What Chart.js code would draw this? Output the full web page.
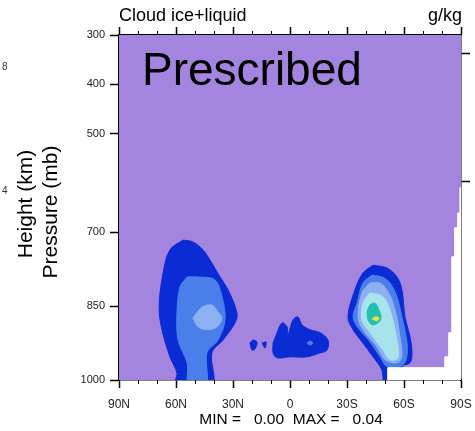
<!DOCTYPE html>
<html>
<head>
<meta charset="utf-8">
<script src="https://cdn.jsdelivr.net/npm/chart.js@4.4.1/dist/chart.umd.min.js"></script>
<style>
  html, body { margin: 0; padding: 0; background: #fff; }
  #grafico { display: block; }
</style>
</head>
<body>
<canvas id="grafico" width="475" height="431"></canvas>
<script>
// ================= DATOS =================
// latitud en grados (positivo = N), presión en mb
const ticksLatitud = [90, 60, 30, 0, -30, -60, -90];
const ticksLatMenores = [80, 70, 50, 40, 20, 10, -10, -20, -40, -50, -70, -80];
const ticksPresion = [300, 400, 500, 700, 850, 1000];
const ticksAltura = [337, 598]; // 8 km y 4 km (eje derecho)

// contornos (lat, presión)
const norteNivel1 = [[56.3,716],[63.2,736],[66.8,783],[68.9,852],[67.4,898],[63.2,953],[59.5,986],[60.5,1010],
  [41.1,1010],[41.1,945],[35.3,919],[28.9,884],[27.9,864],[32.6,817],[36.8,791],[41.1,763],[45.8,736],[51.1,720]];
const norteNivel2 = [[54.2,791],[57.9,811],[59.5,864],[58.9,919],[54.2,965],[53.2,1010],[44.2,1010],[43.7,945],
  [37.9,919],[34.2,878],[35.8,831],[39.5,797],[48.4,791]];
const norteNivel3 = [[51.1,874],[46.3,852],[41.1,848],[37.9,862],[35.8,874],[38.4,892],[43.7,898],[48.4,892]];

const ecuadorNivel1 = [[8.9,925],[6.8,904],[4.2,884],[1.6,892],[1.1,909],[-1.6,878],[-4.2,872],[-6.3,888],
  [-10.5,898],[-15.8,904],[-20.0,919],[-19.5,939],[-15.8,945],[-8.9,953],[0,953],[6.8,955],[8.9,945]];
const ecuadorNivel2 = [[-8.9,925],[-10.5,921],[-12.1,925],[-10.5,929]];
const ecuadorChico1 = [[21.1,925],[19.5,919],[17.4,923],[18.4,937],[20.0,939]];
const ecuadorChico2 = [[14.7,925],[12.6,923],[13.2,935]];

const surNivel1 = [[-43.7,767],[-38.4,783],[-34.2,817],[-30.5,872],[-33.2,898],[-38.4,925],[-43.7,953],[-48.4,980],
  [-50.0,1010],[-58.9,1010],[-58.9,973],[-63.2,965],[-64.2,945],[-63.2,913],[-60.5,872],[-58.9,817],[-56.3,791],[-51.1,773]];
const surNivel2 = [[-43.2,787],[-38.4,803],[-35.3,844],[-33.2,872],[-35.8,894],[-42.1,923],[-47.4,953],[-51.1,973],
  [-57.9,973],[-61.1,959],[-61.6,925],[-58.9,872],[-56.3,831],[-52.6,803],[-48.4,791]];
const surNivel3 = [[-42.1,803],[-37.9,823],[-35.8,872],[-38.4,898],[-45.8,933],[-50.0,959],[-56.3,965],[-58.9,953],
  [-57.9,913],[-55.3,858],[-51.6,821],[-47.4,803]];
const surNivel4 = [[-42.1,823],[-38.4,844],[-37.9,878],[-42.1,904],[-48.9,939],[-52.6,959],[-56.8,955],[-56.3,919],
  [-52.6,858],[-48.9,831]];
const surNivel5 = [[-40.5,862],[-42.1,848],[-44.7,844],[-46.8,858],[-47.9,874],[-46.3,884],[-43.2,888],[-41.1,878]];
const surNivel6 = [[-43.2,876],[-44.7,872],[-46.8,874],[-45.8,880]];

// zona bajo la superficie (sin datos)
const sinDatos = [[-89.6,610],[-89.6,661],[-88.4,661],[-88.4,691],[-86.8,691],[-86.8,750],[-85.3,750],[-85.3,904],
  [-83.7,904],[-83.7,953],[-81.6,953],[-81.6,975],[-51.6,975],[-51.6,1010],[-95,1010],[-95,610]];

// ================= ESTILOS =================
const colorFondo = "#a385e0";
const coloresNivel = ["#0b2bd4", "#4a7fea", "#8db0f2", "#a8e2ea", "#22bfb0", "#e6e23c"];
const fuente = "'Liberation Sans', Arial, sans-serif";

// capas en orden de dibujo (de abajo hacia arriba)
const capas = [
  { datos: norteNivel1, color: coloresNivel[0] },
  { datos: norteNivel2, color: coloresNivel[1] },
  { datos: norteNivel3, color: coloresNivel[2] },
  { datos: ecuadorNivel1, color: coloresNivel[0] },
  { datos: ecuadorNivel2, color: coloresNivel[1] },
  { datos: ecuadorChico1, color: coloresNivel[0] },
  { datos: ecuadorChico2, color: coloresNivel[0] },
  { datos: surNivel1, color: coloresNivel[0] },
  { datos: surNivel2, color: coloresNivel[1] },
  { datos: surNivel3, color: coloresNivel[2] },
  { datos: surNivel4, color: coloresNivel[3] },
  { datos: surNivel5, color: coloresNivel[4] },
  { datos: surNivel6, color: coloresNivel[5] },
  { datos: sinDatos, color: "#ffffff", recto: true }
];

function etiquetaLat(v) {
  if (v === 0) return "0";
  return v > 0 ? v + "N" : (-v) + "S";
}

// ================= PLUGINS =================
const fondoArea = {
  id: "fondoArea",
  beforeDatasetsDraw(chart) {
    const { ctx, chartArea: a } = chart;
    ctx.save();
    ctx.fillStyle = colorFondo;
    ctx.fillRect(a.left, a.top, a.right - a.left, a.bottom - a.top);
    ctx.restore();
  }
};

const ticksMenores = {
  id: "ticksMenores",
  afterDraw(chart) {
    const { ctx, chartArea: a } = chart;
    const esc = chart.scales.x;
    ctx.save();
    ctx.strokeStyle = "#000";
    ctx.lineWidth = 1;
    ticksLatMenores.forEach(lat => {
      const px = Math.round(esc.getPixelForValue(lat)) + 0.5;
      ctx.beginPath();
      ctx.moveTo(px, a.bottom); ctx.lineTo(px, a.bottom + 4);
      ctx.moveTo(px, a.top); ctx.lineTo(px, a.top - 4);
      ctx.stroke();
    });
    ctx.restore();
  }
};

const textos = {
  id: "textos",
  afterDraw(chart) {
    const { ctx } = chart;
    ctx.save();
    ctx.fillStyle = "#000";
    ctx.textBaseline = "alphabetic";

    ctx.font = "18px " + fuente;
    ctx.textAlign = "left";
    ctx.fillText("Cloud ice+liquid", 119, 21);
    ctx.textAlign = "right";
    ctx.fillText("g/kg", 462, 21);

    ctx.font = "46px " + fuente;
    ctx.textAlign = "left";
    ctx.fillText("Prescribed", 142, 85);

    ctx.font = "15.5px " + fuente;
    ctx.textAlign = "center";
    ctx.textBaseline = "middle";
    ctx.fillText("MIN =   0.00  MAX =   0.04", 291, 420);

    // restos del panel vecino
    ctx.font = "10px " + fuente;
    ctx.fillStyle = "#333";
    ctx.textAlign = "left";
    ctx.fillText("8", 2, 67);
    ctx.fillText("4", 2, 191);

    // títulos del eje
    ctx.fillStyle = "#000";
    ctx.font = "21px " + fuente;
    ctx.textAlign = "center";
    ctx.textBaseline = "alphabetic";
    ctx.save();
    ctx.translate(32, 204);
    ctx.rotate(-Math.PI / 2);
    ctx.fillText("Height (km)", 0, 0);
    ctx.restore();
    ctx.translate(57, 212);
    ctx.rotate(-Math.PI / 2);
    ctx.fillText("Pressure (mb)", 0, 0);
    ctx.restore();
  }
};

// ================= GRAFICO =================
function sinRelleno(s) {
  s.paddingLeft = 0; s.paddingRight = 0; s.paddingTop = 0; s.paddingBottom = 0;
}

function ejeX(posicion, alto, conEtiquetas) {
  return {
    type: "linear", position: posicion, min: -90, max: 90, reverse: true, z: 1,
    afterBuildTicks: s => { s.ticks = ticksLatitud.map(v => ({ value: v })); },
    afterFit: s => { s.height = alto; sinRelleno(s); },
    ticks: { display: conEtiquetas, callback: etiquetaLat, autoSkip: false, maxRotation: 0,
             font: { family: fuente, size: 12 }, color: "#222", padding: 9 },
    grid: { drawOnChartArea: false, drawTicks: true, tickLength: 8, tickColor: "#000", tickWidth: 1.5 },
    border: { display: true, color: "#000", width: 1.5 }
  };
}

function ejeY(posicion, ancho, valores, conEtiquetas) {
  return {
    type: "linear", position: posicion, min: 300, max: 1000, reverse: true, z: 1,
    afterBuildTicks: s => { s.ticks = valores.map(v => ({ value: v })); },
    afterFit: s => { s.width = ancho; sinRelleno(s); },
    ticks: { display: conEtiquetas, autoSkip: false, callback: v => String(v),
             font: { family: fuente, size: 11 }, color: "#222", padding: 5 },
    grid: { drawOnChartArea: false, drawTicks: true, tickLength: 9, tickColor: "#000", tickWidth: 1.5 },
    border: { display: true, color: "#000", width: 1.5 }
  };
}

const datasets = capas.map((c, i) => {
  const puntos = c.datos.concat([c.datos[0]]).map(([lat, p]) => ({ x: lat, y: p }));
  return {
    data: puntos,
    backgroundColor: c.color,
    borderColor: c.color,
    borderWidth: 1,
    pointRadius: 0,
    tension: c.recto ? 0 : 0.35,
    fill: "shape",
    order: capas.length - i
  };
});

new Chart(document.getElementById("grafico"), {
  type: "line",
  data: { datasets },
  options: {
    responsive: false,
    animation: false,
    devicePixelRatio: 1,
    layout: { padding: 0 },
    plugins: { legend: { display: false }, tooltip: { enabled: false } },
    scales: {
      x: ejeX("bottom", 51, true),
      xArriba: ejeX("top", 35, false),
      y: ejeY("left", 119, ticksPresion, true),
      yDerecha: ejeY("right", 14, ticksAltura, false)
    }
  },
  plugins: [fondoArea, ticksMenores, textos]
});
</script>
</body>
</html>
